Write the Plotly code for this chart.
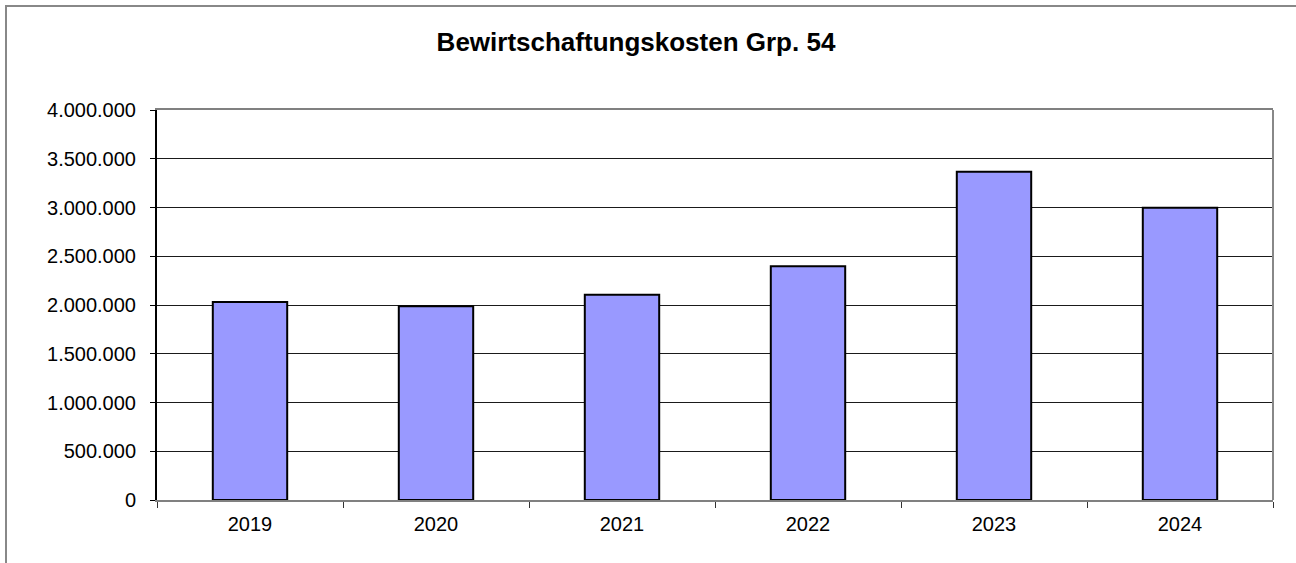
import plotly.graph_objects as go

years = ["2019", "2020", "2021", "2022", "2023", "2024"]
costs = [2031000, 1986000, 2106000, 2397000, 3366000, 2998000]
y_ticks = [0, 500000, 1000000, 1500000, 2000000, 2500000, 3000000, 3500000, 4000000]
y_tick_labels = ["0", "500.000", "1.000.000", "1.500.000", "2.000.000",
                 "2.500.000", "3.000.000", "3.500.000", "4.000.000"]
title_text = "Bewirtschaftungskosten Grp. 54"

W, H = 1296, 563
L, R, T, B = 157, 23, 110, 63
pw, ph = W - L - R, H - T - B

def px2x(px):
    return (px - L) / pw

def px2y(py):
    return (H - B - py) / ph

fig = go.Figure()
fig.add_trace(go.Bar(
    x=years, y=costs, width=0.4,
    marker=dict(color="#9999FF", line=dict(color="#000000", width=2)),
    hoverinfo="x+y",
))

fig.update_layout(
    width=W, height=H,
    margin=dict(l=L, r=R, t=T, b=B),
    paper_bgcolor="white", plot_bgcolor="white",
    showlegend=False,
    font=dict(family="Liberation Sans, Arial, sans-serif", size=20, color="#000"),
    title=dict(text="<b>" + title_text + "</b>", x=636 / W,
               xanchor="center", y=1 - 42 / H, yanchor="middle",
               font=dict(size=26, color="#000")),
    bargap=0.6,
    shapes=[
        dict(type="rect", xref="paper", yref="paper",
             x0=px2x(6), x1=px2x(1310), y0=px2y(580), y1=px2y(6),
             line=dict(color="#888888", width=2), layer="below"),
        dict(type="line", xref="paper", yref="paper",
             x0=1, x1=1, y0=0, y1=1,
             line=dict(color="#888888", width=2)),
    ],
)

fig.update_xaxes(
    type="category",
    showline=True, linecolor="#808080", linewidth=2, mirror=True,
    ticks="outside", ticklen=6, tickcolor="#333", tickwidth=1,
    tickson="boundaries",
    ticklabelstandoff=5,
    showgrid=False,
    tickfont=dict(size=20),
)
fig.update_yaxes(
    range=[0, 4000000],
    tickvals=y_ticks, ticktext=y_tick_labels,
    showline=True, linecolor="#000000", linewidth=2,
    ticks="outside", ticklen=5, tickcolor="#000", tickwidth=1,
    ticklabelstandoff=10,
    showgrid=True, gridcolor="#1a1a1a", gridwidth=1,
    zeroline=False,
    tickfont=dict(size=20),
)

fig.write_html(
    "out.html",
    config={"displayModeBar": False},
    post_script="document.body.style.margin='0';document.body.style.padding='0';",
)
